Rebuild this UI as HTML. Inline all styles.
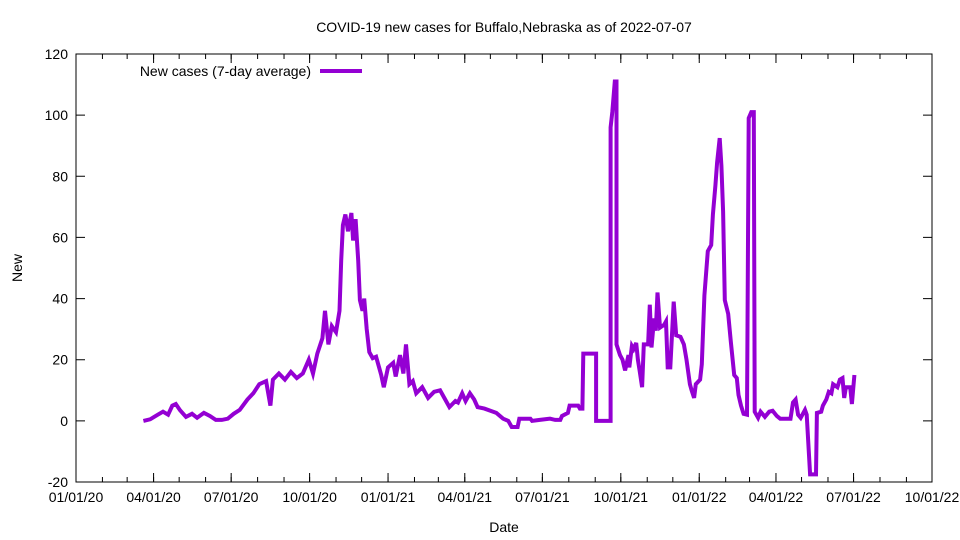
<!DOCTYPE html>
<html><head><meta charset="utf-8"><style>
body{margin:0;background:#fff}
svg{display:block;font-family:"Liberation Sans",sans-serif}
</style></head><body>
<svg id="chart" width="960" height="540" viewBox="0 0 960 540">
<rect width="960" height="540" fill="#fff"/>
<text x="504" y="32" text-anchor="middle" font-size="14">COVID-19 new cases for Buffalo,Nebraska as of 2022-07-07</text>
<text x="504" y="532" text-anchor="middle" font-size="14">Date</text>
<text transform="translate(22,268) rotate(-90)" text-anchor="middle" font-size="14">New</text>
<g id="axes"></g>
<g id="plot"></g>
<g>
<text x="311" y="76" text-anchor="end" font-size="14">New cases (7-day average)</text>
<line x1="320" y1="71" x2="362" y2="71" stroke="#9400d3" stroke-width="4"/>
</g>
</svg>
<script>
// days since 2020-01-01
const days = [79,87,96,102,108,113,117,122,129,136,142,150,157,164,171,178,185,192,201,208,215,223,228,231,238,245,252,259,266,273,278,283,289,292,296,300,305,309,311,313,316,319,323,325,328,331,333,336,338,341,344,348,352,358,361,366,372,375,380,384,387,391,395,399,406,413,420,427,432,438,445,448,453,457,462,467,471,479,486,493,501,507,511,518,520,533,535,544,556,562,568,570,577,579,589,591,594,595,610,610,627,627,629,632,634,634,638,641,644,648,649,652,654,657,659,661,664,666,671,673,675,678,680,682,685,690,692,694,697,701,704,709,713,716,720,722,725,727,732,734,737,741,745,747,750,752,755,757,759,761,765,768,772,775,777,780,783,787,789,792,795,796,800,803,808,813,817,822,826,835,838,841,844,847,850,855,857,861,868,869,874,876,880,883,886,888,893,896,899,901,903,908,910,913];
const cases = [0,0.5,2,3,2,5,5.5,3.5,1.3,2.3,1,2.6,1.6,0.3,0.3,0.7,2.3,3.6,7,9,12,13,5,13.5,15.5,13.5,16,14,15.5,20,15.5,22,27,36,25,31,29,36,52.5,64,67.5,62,68,59,66,52.5,39.5,36,40,30,22.5,20.5,21,15,11,17.5,19,14.5,21.5,15.5,25,12,13,9,11,7.5,9.5,10,7.5,4.5,6.5,6,9,6.5,9,7,4.5,4,3.3,2.6,0.7,0,-2,-2,0.7,0.7,0,0.3,0.7,0.3,0.3,1.6,2.6,5,5,4,4,22,22,0,0,96,101,111,111,25,21.5,20,16.5,21.5,17.5,24.5,23.5,25.5,20,16.5,11,25,25,38,24,33.5,29.5,42,30.5,31.5,32.5,17.5,17.5,39,28,27.5,25,20,12,10,7.5,12,13.5,18.5,41,55.5,57.5,67.5,77,84.5,92.5,83.5,68.5,39.5,35,26,15,14,8.5,5,2.3,2,99,101,101,3,1,3,1.3,3,3.3,1.6,0.7,0.7,0.7,6,7,2,1,3.6,2,-17.5,-17.5,2.6,3,5,7,9.5,9,12,11,13.5,14,7.5,11,11,5.5,15];
const yTicks = [-20,0,20,40,60,80,100,120];
const xTickDays = [0,91,182,274,366,456,547,639,731,821,912,1004];
const xTickLabels = ["01/01/20","04/01/20","07/01/20","10/01/20","01/01/21","04/01/21","07/01/21","10/01/21","01/01/22","04/01/22","07/01/22","10/01/22"];
const monthDays = [0,31,60,91,121,152,182,213,244,274,305,335,366,397,425,456,486,517,547,578,609,639,670,700,731,762,790,821,851,882,912,943,974,1004];

const L=76,R=932,T=54,B=482;
const sx=d=>L+(d-0)*(R-L)/1004;
const sy=v=>B-(v+20)*(B-T)/140;
const NS="http://www.w3.org/2000/svg";
const axes=document.getElementById('axes');
function mk(tag,attrs,parent){const e=document.createElementNS(NS,tag);for(const k in attrs)e.setAttribute(k,attrs[k]);parent.appendChild(e);return e;}
const frame=mk('rect',{x:L,y:T,width:R-L,height:B-T,fill:'none',stroke:'#000','stroke-width':1},axes);


yTicks.forEach(v=>{
  const y=sy(v);
  const t=mk('path',{d:`M${L},${y}h9M${R},${y}h-9`,stroke:'#000','stroke-width':1},axes);
  
  
  const lb=mk('text',{x:L-8,y:y+5,'text-anchor':'end','font-size':14},axes);
  lb.textContent=v;
  
  
});
monthDays.forEach(d=>{
  const x=sx(d);
  const t=mk('path',{d:`M${x},${B}v-5M${x},${T}v5`,stroke:'#000','stroke-width':1},axes);
  
  
});
xTickDays.forEach((d,i)=>{
  const x=sx(d);
  const t=mk('path',{d:`M${x},${B}v-9M${x},${T}v9`,stroke:'#000','stroke-width':1},axes);
  
  
  const lb=mk('text',{x:x,y:502,'text-anchor':'middle','font-size':14},axes);
  lb.textContent=xTickLabels[i];
  
  
});
const pts=days.map((d,i)=>sx(d).toFixed(1)+','+sy(cases[i]).toFixed(1)).join(' ');
const line=mk('polyline',{points:pts,fill:'none',stroke:'#9400d3','stroke-width':4,'stroke-linejoin':'miter'},document.getElementById('plot'));


</script>
</body></html>
